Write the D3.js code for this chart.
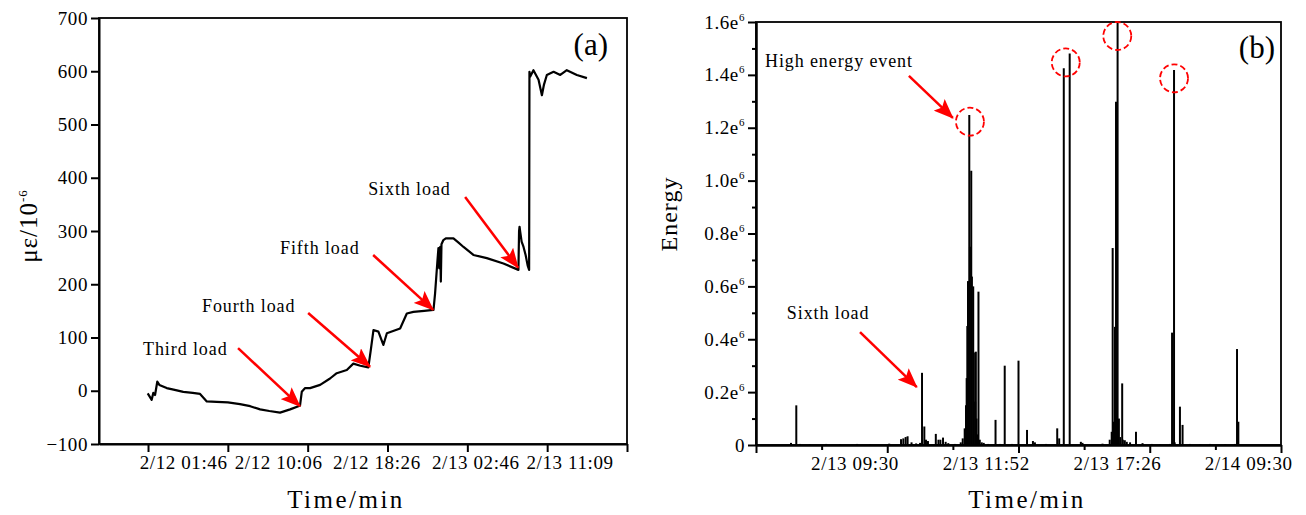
<!DOCTYPE html>
<html>
<head>
<meta charset="utf-8">
<script src="https://cdn.jsdelivr.net/npm/d3@7"></script>
<style>
    body { margin: 0; background: #fff; }
    text { font-family: "Liberation Serif", "Times New Roman", serif; fill: #000; }
    .axis path, .axis line { stroke: #000; stroke-width: 2; }
    .axis text { font-size: 19px; letter-spacing: 0.6px; }
    .note { font-size: 18px; letter-spacing: 0.9px; }
</style>
</head>
<body>
<svg id="vis" width="1306" height="515"></svg>
<script>
// (a) strain curve, time in minutes from the first tick
var strainTime = [-2, 23, 33, 44, 58, 71, 117, 160, 221, 280, 326, 368, 430, 500, 576, 640, 702, 760, 827, 890,
    942, 952, 963, 984, 1015, 1078, 1140, 1182, 1245, 1286, 1330, 1380, 1395, 1412, 1443, 1474, 1496, 1579, 1621, 1662,
    1730, 1788, 1798, 1813, 1819, 1824, 1830, 1834, 1838, 1850, 1865, 1913, 1945, 1976, 2038, 2122, 2226, 2320, 2324, 2327,
    2331, 2340, 2352, 2365, 2378, 2387, 2389, 2394, 2414, 2446, 2467, 2480, 2498, 2540, 2582, 2623, 2686, 2749];
var strainValue = [-5, -17, -4, -8, 17, 11, 5, 2, -2, -4, -6, -20, -21, -22, -25, -29, -35, -38, -41, -35,
    -29, -28, -2, 5, 5, 11, 23, 33, 39, 51, 47, 44, 76, 114, 111, 86, 108, 117, 145, 148,
    150, 152, 183, 245, 268, 230, 270, 205, 275, 283, 286, 286, 278, 270, 255, 249, 239, 227, 300, 308,
    299, 280, 270, 255, 235, 227, 599, 590, 602, 584, 555, 575, 593, 599, 593, 602, 593, 587];
var strainTicks = [0, 500, 1000, 1500, 2000, 2500, 3000];
var strainLabelPos = [220, 815, 1430, 2050, 2640];
var strainLabels = ["2/12 01:46", "2/12 10:06", "2/12 18:26", "2/13 02:46", "2/13 11:09"];
var strainNotes = [
    {text: "Third load", tx: -31, tv: 67, x1: 564, v1: 80, x2: 952, v2: -29},
    {text: "Fourth load", tx: 338, tv: 148, x1: 1003, v1: 146, x2: 1391, v2: 45},
    {text: "Fifth load", tx: 827, tv: 257, x1: 1410, v1: 255, x2: 1786, v2: 152},
    {text: "Sixth load", tx: 1379, tv: 368, x1: 1986, v1: 364, x2: 2318, v2: 231}
];

// (b) energy events, position in axis units, energy in 1e6
var energyPos = [0.533, 0.614, 0.67, 0.82, 1.07, 1.28, 1.54, 1.74, 2.03, 2.21, 2.245, 2.28, 2.31, 2.37, 2.44, 2.50,
    2.53, 2.565, 2.59, 2.62, 2.74, 2.78, 2.81, 2.85, 2.89, 2.93, 3.03, 3.12, 3.15, 3.18, 3.20, 3.21, 3.22, 3.23,
    3.25, 3.26, 3.28, 3.29, 3.31, 3.32, 3.34, 3.35, 3.36, 3.38, 3.39, 3.41, 3.44, 3.47, 3.54, 3.65, 3.72, 3.79,
    3.90, 4.00, 4.13, 4.22, 4.25, 4.42, 4.59, 4.62, 4.69, 4.78, 4.95, 4.975, 5.28, 5.39, 5.42, 5.435, 5.455, 5.47,
    5.486, 5.51, 5.53, 5.55, 5.58, 5.59, 5.62, 5.65, 5.70, 5.79, 5.89, 6.03, 6.16, 6.31, 6.34, 6.37, 6.38, 6.46,
    6.50, 6.61, 6.77, 6.92, 7.15, 7.30, 7.33, 7.35];
var energyValue = [0.008, 0.15, 0.004, 0.003, 0.004, 0.003, 0.004, 0.003, 0.005, 0.022, 0.025, 0.03, 0.033, 0.01, 0.006, 0.008,
    0.273, 0.07, 0.02, 0.015, 0.042, 0.02, 0.02, 0.028, 0.012, 0.007, 0.004, 0.01, 0.025, 0.063, 0.15, 0.253, 0.45, 0.62,
    1.248, 0.75, 1.037, 0.637, 0.6, 0.35, 0.164, 0.353, 0.1, 0.04, 0.58, 0.02, 0.01, 0.008, 0.004, 0.095, 0.004, 0.3,
    0.004, 0.319, 0.057, 0.015, 0.01, 0.004, 0.063, 0.025, 1.425, 1.481, 0.012, 0.008, 0.005, 0.02, 0.05, 0.745, 0.088, 0.447,
    1.298, 1.6, 0.1, 0.03, 0.233, 0.02, 0.018, 0.012, 0.01, 0.05, 0.007, 0.004, 0.003, 0.004, 0.425, 1.418, 0.01, 0.145,
    0.076, 0.004, 0.003, 0.004, 0.003, 0.004, 0.363, 0.088];
var energyMajor = [0, 2, 4, 6, 8];
var energyMinor = [1, 3, 5, 7];
var energyLabelPos = [1.5, 3.5, 5.5, 7.5];
var energyLabels = ["2/13 09:30", "2/13 11:52", "2/13 17:26", "2/14 09:30"];
var energyYTicks = [0, 0.2, 0.4, 0.6, 0.8, 1.0, 1.2, 1.4, 1.6];
var energyYMinor = [0.1, 0.3, 0.5, 0.7, 0.9, 1.1, 1.3, 1.5];
var highEvents = [[3.26, 1.223], [4.72, 1.447], [5.505, 1.547], [6.37, 1.387]];
var energyNotes = [
    {text: "High energy event", tx: 0.137, tv: 1.431, x1: 2.33, v1: 1.396, x2: 3.0, v2: 1.237},
    {text: "Sixth load", tx: 0.47, tv: 0.475, x1: 1.585, v1: 0.427, x2: 2.45, v2: 0.219}
];

var svg = d3.select("#vis");

var defs = svg.append("defs");
defs.append("marker")
    .attr("id", "head")
    .attr("markerUnits", "userSpaceOnUse")
    .attr("viewBox", "0 0 20 16")
    .attr("refX", 19)
    .attr("refY", 8)
    .attr("markerWidth", 20)
    .attr("markerHeight", 16)
    .attr("orient", "auto")
    .append("path")
    .attr("d", "M0,0 L20,8 L0,16 L4,8 Z")
    .attr("fill", "#ff0000");

function drawNotes(g, notes, x, y) {
    g.selectAll(".note")
        .data(notes)
        .enter().append("text")
        .attr("class", "note")
        .attr("x", function (d) { return x(d.tx); })
        .attr("y", function (d) { return y(d.tv); })
        .text(function (d) { return d.text; });

    g.selectAll(".arrow")
        .data(notes)
        .enter().append("line")
        .attr("class", "arrow")
        .attr("x1", function (d) { return x(d.x1); })
        .attr("y1", function (d) { return y(d.v1); })
        .attr("x2", function (d) { return x(d.x2); })
        .attr("y2", function (d) { return y(d.v2); })
        .attr("stroke", "#ff0000")
        .attr("stroke-width", 2.5)
        .attr("marker-end", "url(#head)");
}

// ---------- panel (a) ----------
var xL = d3.scaleLinear().domain([-307, 3000]).range([99, 627]);
var yL = d3.scaleLinear().domain([-100, 700]).range([444, 18]);

var gA = svg.append("g");

gA.append("g")
    .attr("class", "axis")
    .attr("transform", "translate(" + xL.range()[0] + ",0)")
    .call(d3.axisLeft(yL).tickValues(d3.range(-100, 701, 100)).tickSize(8).tickSizeOuter(0).tickPadding(3));

gA.append("g")
    .attr("class", "axis")
    .attr("transform", "translate(0," + yL.range()[0] + ")")
    .call(d3.axisBottom(xL).tickValues(strainTicks).tickSize(8).tickSizeOuter(0).tickFormat(""));

var labA = gA.append("g")
    .attr("class", "axis")
    .attr("transform", "translate(0," + yL.range()[0] + ")")
    .call(d3.axisBottom(xL).tickValues(strainLabelPos).tickSize(0).tickPadding(12)
        .tickFormat(function (d, i) { return strainLabels[i]; }));
labA.select(".domain").remove();

gA.append("rect")
    .attr("x", xL.range()[0])
    .attr("y", yL.range()[1])
    .attr("width", xL.range()[1] - xL.range()[0])
    .attr("height", yL.range()[0] - yL.range()[1])
    .attr("fill", "none")
    .attr("stroke", "#000")
    .attr("stroke-width", 1.8);

var line = d3.line()
    .x(function (d, i) { return xL(strainTime[i]); })
    .y(function (d) { return yL(d); });

gA.append("path")
    .datum(strainValue)
    .attr("d", line)
    .attr("fill", "none")
    .attr("stroke", "#000")
    .attr("stroke-width", 2.2)
    .attr("stroke-linejoin", "round");

drawNotes(gA, strainNotes, xL, yL);

gA.append("text")
    .attr("x", 608)
    .attr("y", 55)
    .attr("text-anchor", "end")
    .style("font-size", "31px")
    .text("(a)");

gA.append("text")
    .attr("transform", "translate(37,226) rotate(-90)")
    .attr("text-anchor", "middle")
    .style("font-size", "25px")
    .style("letter-spacing", "1px")
    .text("με/10")
    .append("tspan")
    .attr("dy", -10)
    .style("font-size", "13px")
    .text("-6");

gA.append("text")
    .attr("x", 346)
    .attr("y", 508)
    .attr("text-anchor", "middle")
    .style("font-size", "25px")
    .style("letter-spacing", "2.5px")
    .text("Time/min");

// ---------- panel (b) ----------
var xR = d3.scaleLinear().domain([0, 8]).range([756, 1281]);
var yR = d3.scaleLinear().domain([0, 1.6]).range([445, 22]);

var gB = svg.append("g");

var yAxisB = gB.append("g")
    .attr("class", "axis")
    .attr("transform", "translate(" + xR.range()[0] + ",0)")
    .call(d3.axisLeft(yR).tickValues(energyYTicks).tickSize(8).tickSizeOuter(0).tickPadding(3)
        .tickFormat(function (d) { return d === 0 ? "0" : d.toFixed(1) + "e"; }));
yAxisB.selectAll(".tick text")
    .filter(function (d) { return d !== 0; })
    .append("tspan")
    .attr("dy", -8)
    .style("font-size", "11px")
    .text("6");

gB.append("g")
    .attr("class", "axis")
    .attr("transform", "translate(" + xR.range()[0] + ",0)")
    .call(d3.axisLeft(yR).tickValues(energyYMinor).tickSize(4).tickSizeOuter(0).tickFormat(""));

gB.append("g")
    .attr("class", "axis")
    .attr("transform", "translate(0," + yR.range()[0] + ")")
    .call(d3.axisBottom(xR).tickValues(energyMajor).tickSize(8).tickSizeOuter(0).tickFormat(""));

gB.append("g")
    .attr("class", "axis")
    .attr("transform", "translate(0," + yR.range()[0] + ")")
    .call(d3.axisBottom(xR).tickValues(energyMinor).tickSize(5).tickSizeOuter(0).tickFormat(""));

var labB = gB.append("g")
    .attr("class", "axis")
    .attr("transform", "translate(0," + yR.range()[0] + ")")
    .call(d3.axisBottom(xR).tickValues(energyLabelPos).tickSize(0).tickPadding(12)
        .tickFormat(function (d, i) { return energyLabels[i]; }));
labB.select(".domain").remove();

gB.selectAll(".spike")
    .data(energyValue)
    .enter().append("line")
    .attr("class", "spike")
    .attr("x1", function (d, i) { return xR(energyPos[i]); })
    .attr("x2", function (d, i) { return xR(energyPos[i]); })
    .attr("y1", yR(0))
    .attr("y2", function (d) { return yR(d); })
    .attr("stroke", "#000")
    .attr("stroke-width", 2);

gB.append("rect")
    .attr("x", xR.range()[0])
    .attr("y", yR.range()[1])
    .attr("width", xR.range()[1] - xR.range()[0])
    .attr("height", yR.range()[0] - yR.range()[1])
    .attr("fill", "none")
    .attr("stroke", "#000")
    .attr("stroke-width", 1.8);

gB.selectAll(".ring")
    .data(highEvents)
    .enter().append("circle")
    .attr("class", "ring")
    .attr("cx", function (d) { return xR(d[0]); })
    .attr("cy", function (d) { return yR(d[1]); })
    .attr("r", 14)
    .attr("fill", "none")
    .attr("stroke", "#ff0000")
    .attr("stroke-width", 1.8)
    .attr("stroke-dasharray", "6,3");

drawNotes(gB, energyNotes, xR, yR);

gB.append("text")
    .attr("x", 1275)
    .attr("y", 58)
    .attr("text-anchor", "end")
    .style("font-size", "31px")
    .text("(b)");

gB.append("text")
    .attr("transform", "translate(677,214) rotate(-90)")
    .attr("text-anchor", "middle")
    .style("font-size", "24px")
    .style("letter-spacing", "1px")
    .text("Energy");

gB.append("text")
    .attr("x", 1027)
    .attr("y", 508)
    .attr("text-anchor", "middle")
    .style("font-size", "25px")
    .style("letter-spacing", "2.5px")
    .text("Time/min");
</script>
</body>
</html>
